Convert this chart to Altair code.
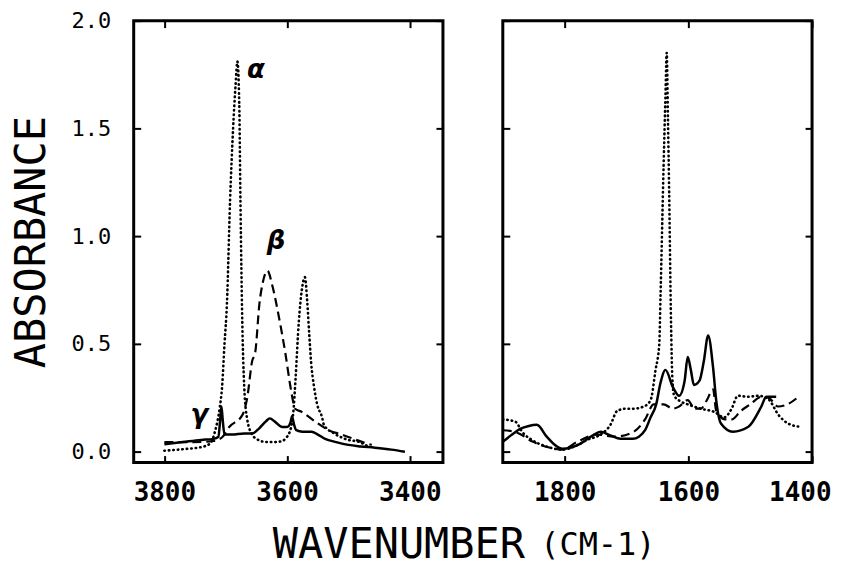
import altair as alt
import pandas as pd

FONT = "DejaVu Sans Mono"

# ---------------- Left panel (O-H stretch region) ----------------
L_SOLID_WN = [3800, 3770, 3740, 3720, 3712, 3709, 3707, 3705, 3702, 3690, 3670, 3657, 3645, 3635, 3628,
              3620, 3608, 3600, 3594, 3592, 3589, 3585, 3575, 3560, 3550, 3538, 3520, 3500, 3480, 3457,
              3430, 3408]
L_SOLID_A = [0.035, 0.045, 0.055, 0.06, 0.07, 0.15, 0.21, 0.15, 0.08, 0.08, 0.085, 0.085, 0.11, 0.14, 0.155,
             0.14, 0.115, 0.115, 0.14, 0.165, 0.13, 0.10, 0.093, 0.093, 0.08, 0.06, 0.045, 0.032, 0.025, 0.019,
             0.01, 0.0]

L_DOT_WN = [3800, 3770, 3738, 3725, 3717, 3710, 3706, 3702, 3698, 3693, 3688, 3684, 3681, 3678, 3676,
            3673, 3670, 3665, 3657, 3650, 3636, 3620, 3608, 3600, 3597, 3590, 3586, 3581, 3576, 3571,
            3567, 3564, 3561, 3556, 3551, 3543, 3540, 3522, 3500, 3483, 3467]
L_DOT_A = [0.005, 0.012, 0.023, 0.04, 0.1, 0.2, 0.3, 0.5, 0.69, 1.16, 1.5, 1.7, 1.81, 1.62, 1.16,
           0.6, 0.31, 0.15, 0.08, 0.06, 0.046, 0.045, 0.05, 0.07, 0.083, 0.18, 0.35, 0.6, 0.75, 0.81,
           0.69, 0.55, 0.42, 0.3, 0.22, 0.16, 0.125, 0.083, 0.055, 0.046, 0.023]

L_DASH_WN = [3800, 3770, 3738, 3720, 3705, 3694, 3673, 3665, 3657, 3652, 3645, 3640, 3632, 3624, 3613,
             3603, 3595, 3592, 3587, 3576, 3554, 3532, 3511, 3478, 3462]
L_DASH_A = [0.045, 0.045, 0.046, 0.05, 0.07, 0.116, 0.17, 0.25, 0.42, 0.46, 0.69, 0.78, 0.84, 0.77, 0.62,
            0.46, 0.31, 0.26, 0.2, 0.185, 0.14, 0.1, 0.08, 0.046, 0.032]

# ---------------- Right panel (fingerprint region) ----------------
R_SOLID_WN = [1900, 1885, 1872, 1858, 1845, 1829, 1815, 1804, 1790, 1775, 1755, 1742, 1725, 1710, 1690,
              1680, 1670, 1661, 1652, 1645, 1637, 1625, 1615, 1606, 1601, 1596, 1591, 1582, 1575, 1568,
              1560, 1555, 1547, 1528, 1503, 1482, 1474, 1458]
R_SOLID_A = [0.046, 0.08, 0.106, 0.12, 0.125, 0.07, 0.03, 0.014, 0.02, 0.037, 0.075, 0.093, 0.075, 0.06, 0.06,
             0.07, 0.1, 0.16, 0.22, 0.32, 0.38, 0.3, 0.26, 0.33, 0.44, 0.38, 0.31, 0.33, 0.42, 0.54,
             0.39, 0.24, 0.13, 0.093, 0.116, 0.21, 0.255, 0.255]

R_DOT_WN = [1900, 1880, 1868, 1850, 1830, 1804, 1780, 1764, 1742, 1726, 1715, 1700, 1689, 1672, 1661,
            1653, 1647, 1645, 1640, 1637, 1635, 1633, 1631, 1628, 1626, 1623, 1610, 1601, 1580, 1558,
            1542, 1530, 1520, 1503, 1487, 1471, 1454, 1438, 1417]
R_DOT_A = [0.15, 0.14, 0.09, 0.05, 0.025, 0.01, 0.03, 0.055, 0.08, 0.125, 0.19, 0.2, 0.2, 0.21, 0.24,
           0.38, 0.5, 0.72, 1.33, 1.65, 1.85, 1.55, 1.2, 0.6, 0.35, 0.26, 0.23, 0.22, 0.2, 0.185,
           0.16, 0.2, 0.26, 0.255, 0.26, 0.245, 0.17, 0.13, 0.115]

R_DASH_WN = [1900, 1878, 1851, 1825, 1804, 1780, 1748, 1720, 1690, 1670, 1656, 1640, 1625, 1615, 1601,
             1590, 1580, 1570, 1560, 1555, 1540, 1530, 1515, 1500, 1482, 1470, 1455, 1440, 1420]
R_DASH_A = [0.1, 0.09, 0.046, 0.02, 0.01, 0.046, 0.08, 0.07, 0.09, 0.15, 0.22, 0.22, 0.2, 0.21, 0.24,
            0.2, 0.2, 0.24, 0.29, 0.19, 0.15, 0.15, 0.19, 0.22, 0.255, 0.25, 0.21, 0.22, 0.26]

# ---------------- Annotations ----------------
GREEK = ["\u03b1", "\u03b2", "\u03b3"]
GREEK_WN = [3651, 3618, 3743]
GREEK_A = [1.77, 0.98, 0.17]

Y_TICKS = [0.0, 0.5, 1.0, 1.5, 2.0]
L_XTICKS = [3800, 3600, 3400]
R_XTICKS = [1800, 1600, 1400]
L_XDOMAIN = [3346, 3850]
R_XDOMAIN = [1400, 1900]
Y_DOMAIN = [-0.05, 2.0]

W, H = 310, 443


def df(wn, a):
    return pd.DataFrame({"wn": wn, "A": a})


def panel(solid, dotted, dashed, xdomain, xticks, first, xtitle, title_x, title_y, title_size,
          texts=None):
    xs = alt.Scale(domain=xdomain, reverse=True, nice=False, zero=False)
    ys = alt.Scale(domain=Y_DOMAIN, nice=False, zero=False)
    common = dict(domain=False, grid=False, ticks=True, tickSize=7, tickWidth=2,
                  tickColor="black", offset=-7, minExtent=0)
    x_bottom = alt.Axis(orient="bottom", values=xticks, format="d", labelFont=FONT,
                        labelFontSize=26, labelFontWeight="bold", labelColor="black",
                        labelPadding=17, labelFlush=3, labelFlushOffset=19,
                        title=xtitle, titleFont=FONT, titleFontSize=title_size,
                        titleFontWeight="normal", titleColor="black", titleX=title_x,
                        titleY=title_y, titleAlign="left", titleBaseline="alphabetic", **common)
    x_top = alt.Axis(orient="top", values=xticks, labels=False, title=None, **common)
    if first:
        y_left = alt.Axis(orient="left", values=Y_TICKS, format=".1f", labelFont=FONT,
                          labelFontSize=22, labelColor="black", labelPadding=23,
                          title="ABSORBANCE", titleFont=FONT, titleFontSize=42,
                          titleFontWeight="normal", titleColor="black", titlePadding=18, **common)
    else:
        y_left = alt.Axis(orient="left", values=Y_TICKS, labels=False, title=None, **common)
    y_right = alt.Axis(orient="right", values=Y_TICKS, labels=False, title=None, **common)

    solid_l = alt.Chart(solid).mark_line(color="black", strokeWidth=2.5, interpolate="monotone",
                                         clip=True).encode(
        x=alt.X("wn:Q", scale=xs, axis=x_bottom),
        y=alt.Y("A:Q", scale=ys, axis=y_left),
    )
    dot_l = alt.Chart(dotted).mark_line(color="black", strokeWidth=2.6, strokeDash=[0.5, 4],
                                        strokeCap="round", interpolate="monotone",
                                        clip=True).encode(
        x=alt.X("wn:Q", scale=xs, axis=x_top),
        y=alt.Y("A:Q", scale=ys, axis=y_right),
    )
    dash_l = alt.Chart(dashed).mark_line(color="black", strokeWidth=2.2, strokeDash=[9, 5],
                                         interpolate="monotone", clip=True).encode(
        x=alt.X("wn:Q", scale=xs, axis=None),
        y=alt.Y("A:Q", scale=ys, axis=None),
    )
    layers = [solid_l, dot_l, dash_l]
    if texts is not None:
        t = alt.Chart(texts).mark_text(font="DejaVu Sans", fontSize=26, fontStyle="italic",
                                       fontWeight="bold", color="black").encode(
            x=alt.X("wn:Q", scale=xs, axis=None),
            y=alt.Y("A:Q", scale=ys, axis=None),
            text="label:N",
        )
        layers.append(t)
    return alt.layer(*layers).resolve_axis(x="independent", y="independent").properties(
        width=W, height=H)


greek_df = pd.DataFrame({"wn": GREEK_WN, "A": GREEK_A, "label": GREEK})

left = panel(df(L_SOLID_WN, L_SOLID_A), df(L_DOT_WN, L_DOT_A), df(L_DASH_WN, L_DASH_A),
             L_XDOMAIN, L_XTICKS, True, "WAVENUMBER", 139, 102, 42, greek_df)
right = panel(df(R_SOLID_WN, R_SOLID_A), df(R_DOT_WN, R_DOT_A), df(R_DASH_WN, R_DASH_A),
              R_XDOMAIN, R_XTICKS, False, "(CM-1)", 37, 99, 32)

chart = alt.hconcat(left, right, spacing=60, bounds="flush").properties(
    padding={"left": 0, "top": -1, "right": 0, "bottom": -5},
    background="white",
).configure_view(stroke="black", strokeWidth=3)

chart.save("out.html", embed_options={"renderer": "svg", "actions": False})
